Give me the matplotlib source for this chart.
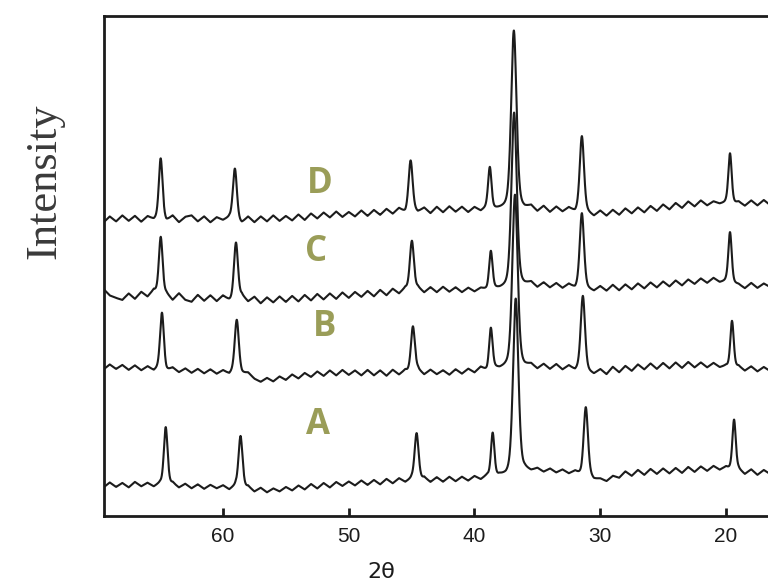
import numpy as np
import matplotlib.pyplot as plt

# background level of each pattern on a 0.5 degree grid (69.5 -> 16.5)
two_theta = np.linspace(69.5, 16.5, 107)

base_A = [5.7, 6.7, 5.8, 6.6, 5.7, 6.8, 5.9, 6.6, 5.8, 6.5,
          5.7, 6.5, 5.6, 6.4, 5.5, 6.3, 5.4, 6.2, 5.5, 6.1,
          5.2, 6.0, 5.0, 5.8, 4.8, 5.6, 4.7, 5.5, 4.9, 5.8,
          5.1, 6.1, 5.3, 6.4, 5.5, 6.6, 5.7, 6.8, 6.0, 6.9,
          6.1, 7.1, 6.2, 7.2, 6.3, 7.4, 6.5, 7.5, 6.7, 7.4,
          6.6, 7.6, 6.7, 7.7, 6.8, 7.8, 6.9, 7.8, 7.0, 7.9,
          7.2, 8.0, 7.4, 8.0, 7.9, 8.4, 8.5, 9.1, 8.8, 9.4,
          8.7, 9.4, 8.6, 9.2, 8.4, 8.9, 8.0, 8.2, 7.2, 7.4,
          6.9, 8.0, 7.6, 8.9, 8.0, 9.2, 8.2, 9.4, 8.4, 9.5,
          8.5, 9.6, 8.6, 9.8, 8.8, 9.9, 9.0, 10.0, 9.2, 9.8,
          9.0, 9.3, 8.3, 9.3, 8.2, 9.2, 8.4]
base_B = [29.3, 30.3, 29.4, 30.2, 29.2, 30.1, 29.1, 29.9, 29.0, 29.7,
          28.9, 29.6, 28.7, 29.5, 28.6, 29.4, 28.5, 29.3, 28.4, 29.1,
          28.3, 29.2, 28.4, 28.6, 27.4, 26.8, 27.6, 26.9, 27.9, 27.2,
          28.3, 27.5, 28.6, 27.8, 28.9, 28.0, 29.1, 28.1, 29.2, 28.2,
          29.1, 28.1, 29.2, 28.1, 29.1, 28.0, 29.2, 28.2, 29.1, 28.1,
          29.2, 28.2, 29.2, 28.3, 29.1, 28.2, 29.3, 28.4, 29.4, 28.6,
          29.7, 28.9, 29.5, 29.3, 29.6, 29.6, 29.7, 29.7, 30.2, 29.3,
          30.3, 29.3, 30.3, 29.2, 30.0, 29.0, 29.6, 28.8, 28.3, 29.3,
          28.3, 29.8, 28.7, 30.0, 29.0, 30.3, 29.3, 30.5, 29.4, 30.6,
          29.5, 30.7, 29.6, 30.8, 29.7, 30.7, 29.7, 30.6, 29.7, 30.0,
          29.2, 29.9, 29.0, 29.9, 28.9, 29.8, 29.0]
base_C = [45.4, 44.1, 43.6, 43.2, 44.5, 43.4, 44.8, 43.8, 45.1, 44.0,
          44.4, 43.1, 44.5, 43.2, 42.8, 44.2, 43.0, 44.1, 42.9, 44.0,
          43.0, 42.6, 44.0, 42.8, 43.8, 42.5, 43.7, 42.7, 43.9, 42.8,
          44.0, 42.9, 44.2, 43.1, 44.4, 43.3, 44.5, 43.4, 44.7, 43.6,
          44.8, 43.8, 45.0, 43.9, 45.2, 44.1, 45.4, 44.4, 45.5, 44.6,
          45.6, 44.6, 45.7, 44.7, 45.8, 44.8, 45.7, 44.7, 45.6, 44.8,
          45.5, 45.1, 45.3, 45.3, 45.5, 45.6, 45.8, 46.0, 46.6, 45.6,
          46.6, 45.6, 46.5, 45.5, 46.3, 45.4, 46.0, 45.3, 44.9, 45.9,
          45.0, 46.2, 45.1, 46.3, 45.3, 46.5, 45.5, 46.7, 45.7, 46.9,
          45.9, 47.1, 46.1, 47.3, 46.4, 47.5, 46.6, 47.6, 46.7, 46.9,
          46.4, 46.3, 45.5, 46.6, 45.6, 46.5, 45.8]
base_D = [58.7, 59.9, 58.9, 60.1, 59.0, 60.0, 58.8, 59.9, 59.2, 59.6,
          58.9, 60.0, 58.7, 59.8, 60.1, 58.9, 59.9, 58.7, 59.7, 59.1,
          59.6, 58.8, 58.5, 59.8, 58.7, 59.9, 58.9, 60.1, 59.0, 60.0,
          59.1, 60.3, 59.2, 60.5, 59.5, 60.7, 59.7, 60.9, 59.8, 60.8,
          59.9, 61.1, 60.0, 61.2, 60.2, 61.4, 60.4, 61.5, 60.6, 61.2,
          60.7, 61.6, 60.5, 61.8, 60.7, 61.9, 60.8, 61.8, 60.7, 61.7,
          60.9, 61.6, 61.2, 61.3, 61.4, 61.5, 61.4, 61.3, 61.9, 60.8,
          61.9, 60.7, 61.8, 60.8, 61.6, 60.7, 61.2, 60.6, 59.9, 61.0,
          60.0, 61.2, 60.2, 61.5, 60.5, 61.7, 60.7, 62.0, 61.0, 62.3,
          61.3, 62.6, 61.6, 62.9, 61.9, 63.1, 62.1, 62.9, 62.4, 62.6,
          62.2, 62.8, 62.0, 63.1, 62.1, 63.2, 62.2]

# reflections: position (2theta) and height above background
pos_A = [64.55, 58.6, 44.6, 38.55, 36.72, 31.15, 19.36]
pos_B = [64.85, 58.9, 44.9, 38.7, 36.78, 31.38, 19.52]
pos_C = [64.95, 58.97, 44.98, 38.7, 36.85, 31.46, 19.68]
pos_D = [64.95, 59.05, 45.08, 38.78, 36.87, 31.46, 19.68]

height_A = [12.0, 10.8, 9.8, 9.0, 35.0, 13.6, 10.2]
height_B = [11.2, 10.2, 9.6, 8.2, 34.6, 14.6, 9.8]
height_C = [11.8, 12.0, 10.4, 7.6, 35.0, 14.6, 10.2]
height_D = [12.0, 10.6, 10.0, 8.2, 35.6, 14.8, 10.2]

fwhm = [0.35, 0.38, 0.38, 0.32, 0.5, 0.4, 0.32]

samples = ["A", "B", "C", "D"]
label_x = [52.45, 51.9, 52.6, 52.3]
label_y = [18.2, 37.8, 52.8, 66.4]


def pseudo_voigt(x, x0, h, w, eta=0.35):
    d = (x - x0) / w
    gauss = np.exp(-4 * np.log(2) * d ** 2)
    lorentz = 1 / (1 + 4 * d ** 2)
    return h * (eta * lorentz + (1 - eta) * gauss)


def pattern(x, base, pos, heights):
    y = np.interp(x, two_theta[::-1], np.array(base)[::-1])
    for x0, h, w in zip(pos, heights, fwhm):
        y = y + pseudo_voigt(x, x0, h, w)
    return y


fig = plt.figure(figsize=(7.68, 5.83), dpi=100)
ax = fig.add_axes([104 / 768, 67 / 583, 664 / 768, 500 / 583])

x = np.linspace(69.6, 16.3, 4000)
data = [(base_A, pos_A, height_A), (base_B, pos_B, height_B),
        (base_C, pos_C, height_C), (base_D, pos_D, height_D)]
for base, pos, heights in data:
    ax.plot(x, pattern(x, base, pos, heights), color="#1c1c1c", lw=1.5)

for name, lx, ly in zip(samples, label_x, label_y):
    ax.text(lx, ly, name, color="#9a9d58", fontsize=25, fontweight="bold",
            family="Open Sans", ha="center", va="center")

ax.set_xlim(69.46, 16.66)
ax.set_ylim(0, 100)
ax.set_xticks([60, 50, 40, 30, 20])
ax.set_yticks([])
ax.tick_params(axis="x", direction="in", length=6, width=2, pad=8,
               labelsize=15, colors="#1c1c1c")
for lbl in ax.get_xticklabels():
    lbl.set_family(["Liberation Sans Narrow", "Liberation Sans"])
for side in ["left", "top", "bottom"]:
    ax.spines[side].set_linewidth(2.0)
    ax.spines[side].set_color("#1c1c1c")
ax.spines["right"].set_visible(False)

fig.text(381 / 768, 11 / 583, "2θ", ha="center", va="center", fontsize=16,
         color="#1c1c1c")
fig.text(44 / 768, (583 - 181) / 583, "Intensity", rotation=90,
         ha="center", va="center", fontsize=32, family="Liberation Serif",
         color="#3a3a3a")

fig.savefig("out.png", dpi=100)
